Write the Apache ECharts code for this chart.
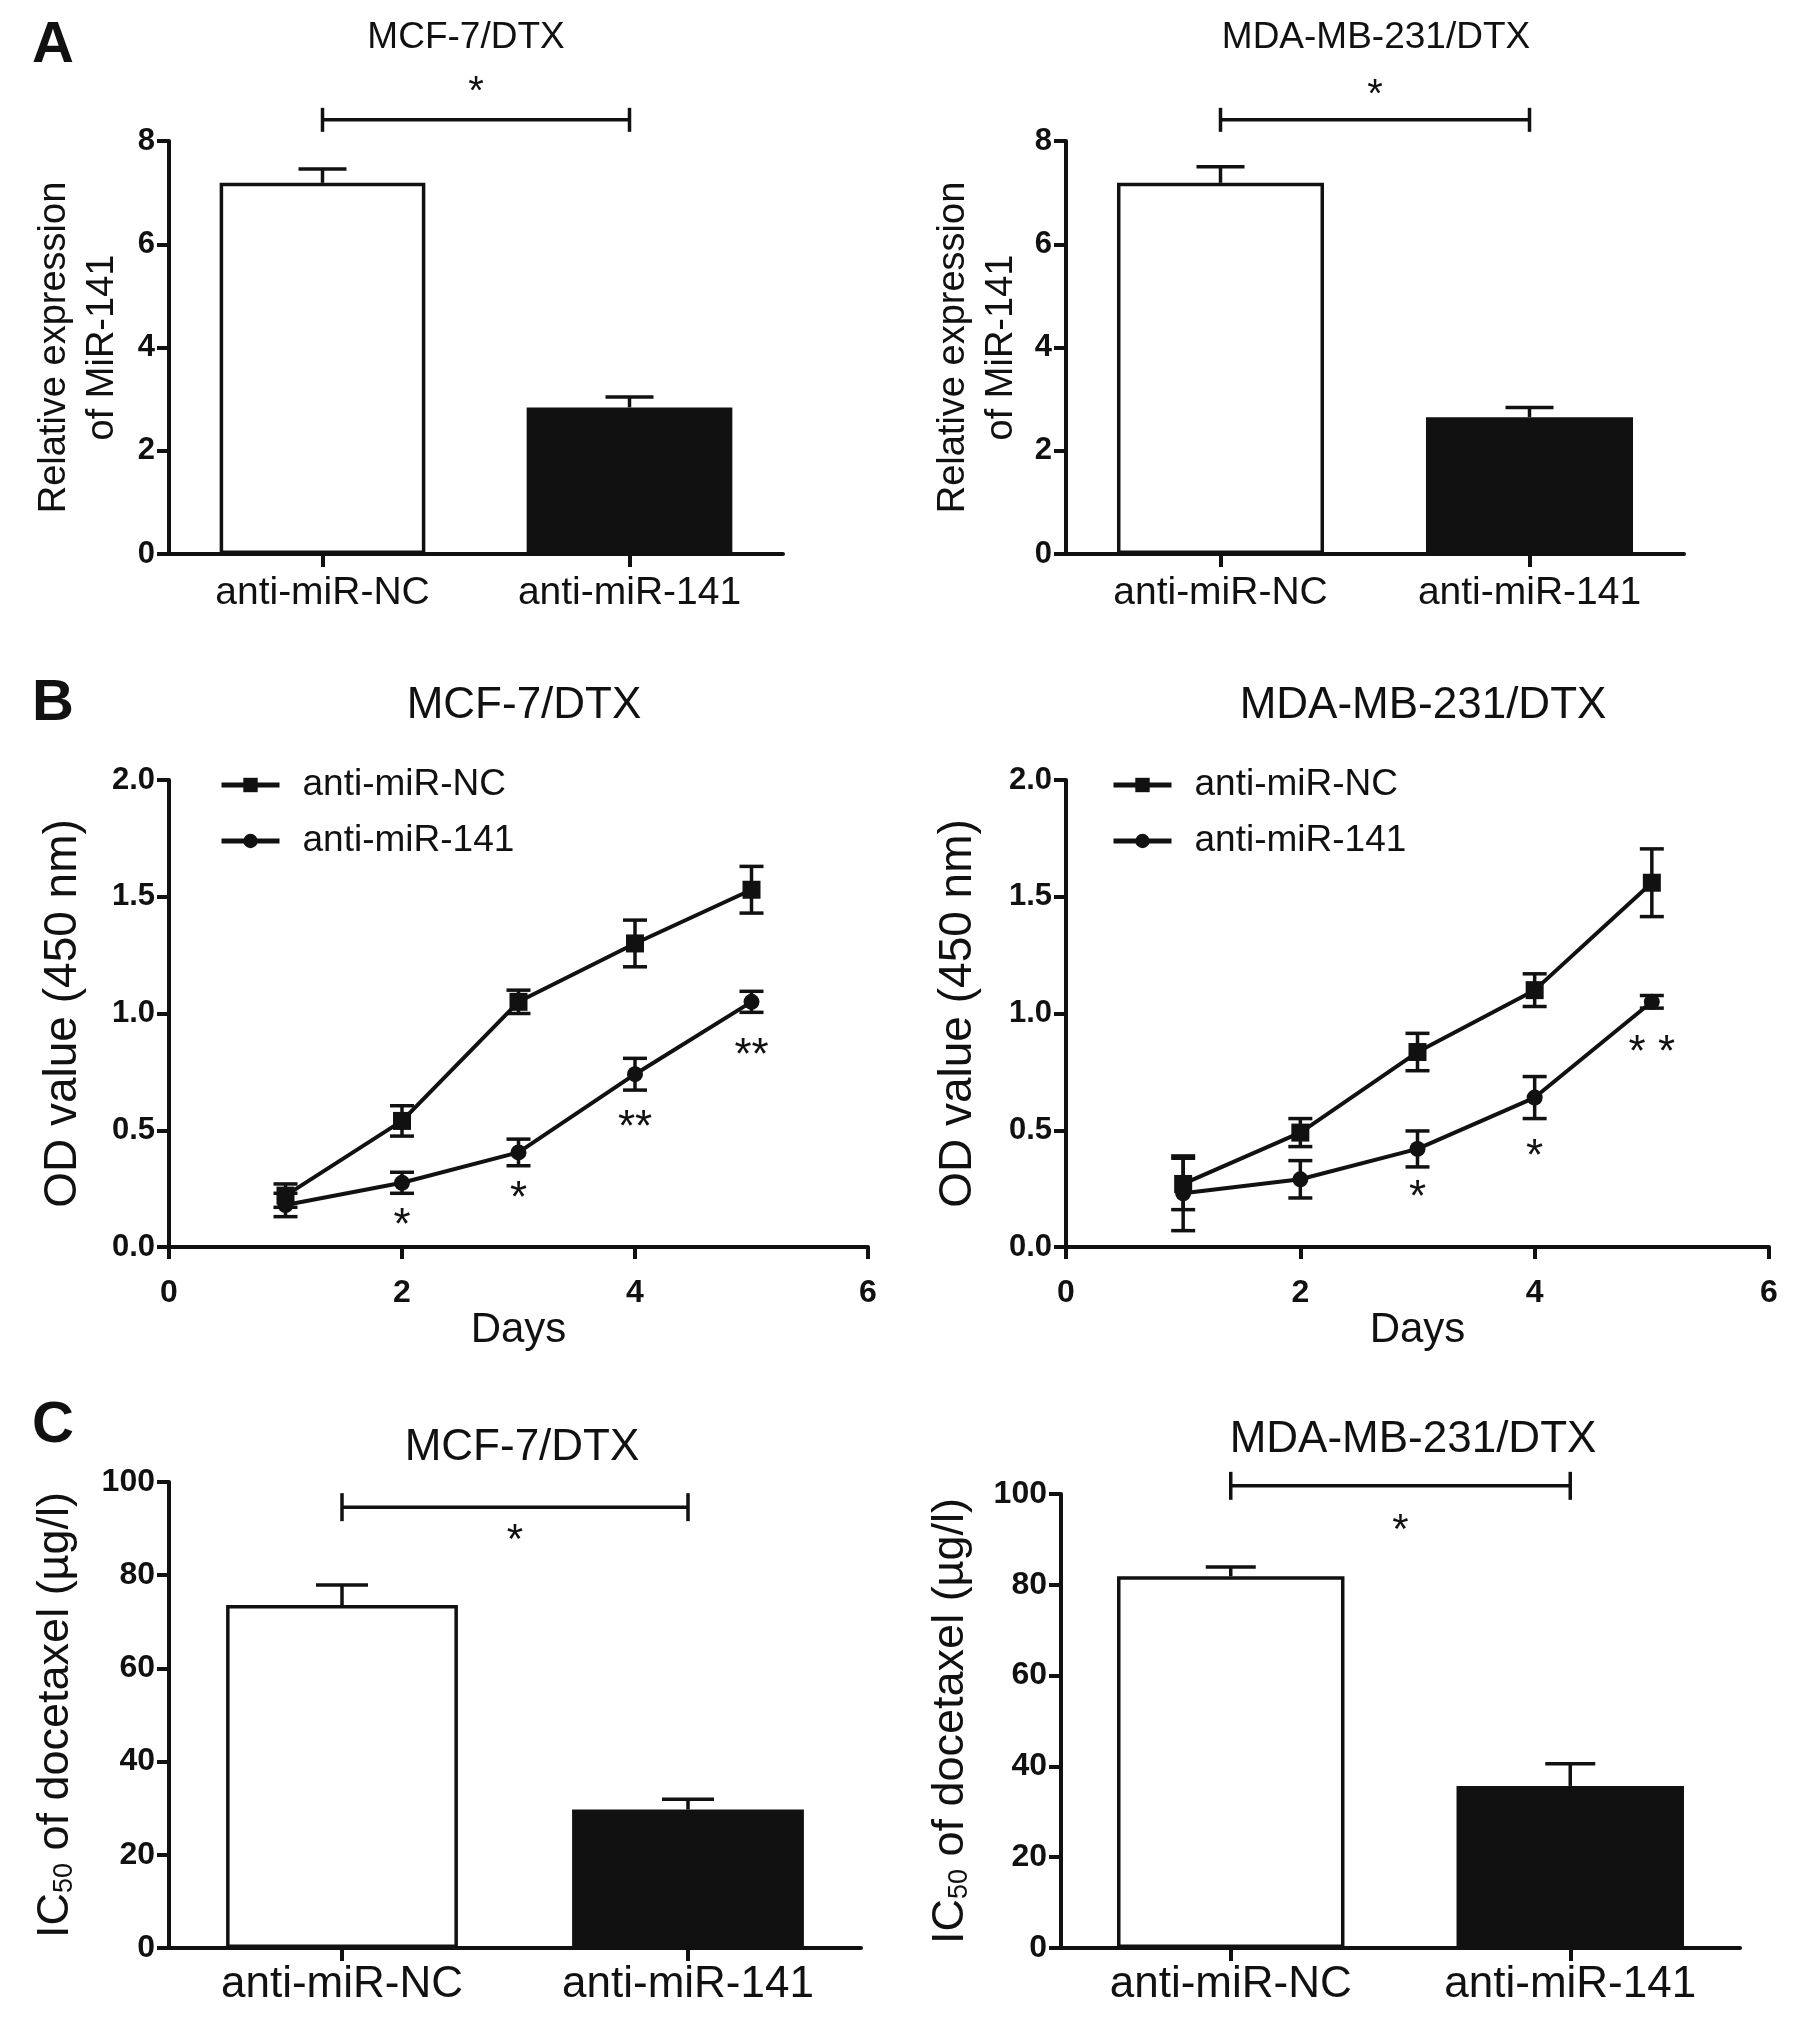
<!DOCTYPE html>
<html><head><meta charset="utf-8">
<script src="https://cdn.jsdelivr.net/npm/echarts@6/dist/echarts.min.js"></script>
<style>html,body{margin:0;padding:0;background:#fff}#c{width:1795px;height:2023px}</style>
</head><body><div id="c"></div>
<script>
// ---------- data ----------
const groups = ['anti-miR-NC', 'anti-miR-141'];
const panelATitles = ['MCF-7/DTX', 'MDA-MB-231/DTX'];
const aMcfMean = [7.19, 2.84];
const aMcfErr = [0.27, 0.20];
const aMdaMean = [7.19, 2.65];
const aMdaErr = [0.31, 0.19];

const days = [1, 2, 3, 4, 5];
const bMcfNC = [0.22, 0.54, 1.05, 1.30, 1.53];
const bMcfNCErr = [0.05, 0.065, 0.05, 0.10, 0.10];
const bMcf141 = [0.18, 0.275, 0.405, 0.74, 1.05];
const bMcf141Err = [0.05, 0.045, 0.057, 0.068, 0.045];
const bMdaNC = [0.27, 0.49, 0.835, 1.10, 1.56];
const bMdaNCErr = [0.11, 0.06, 0.08, 0.07, 0.145];
const bMda141 = [0.23, 0.29, 0.42, 0.64, 1.05];
const bMda141Err = [0.16, 0.08, 0.077, 0.09, 0.027];

const cMcfMean = [73.6, 29.7];
const cMcfErr = [4.3, 2.2];
const cMdaMean = [81.9, 35.7];
const cMdaErr = [2.0, 4.9];

// significance: [fromCat, toCat, bracketLevel, starLevel, text]
const aMcfSig = [0, 1, 8.41, 9.1, '*'];
const aMdaSig = [0, 1, 8.41, 9.05, '*'];
const cMcfSig = [0, 1, 94.6, 89.3, '*'];
const cMdaSig = [0, 1, 101.8, 93.8, '*'];
// star annotations on growth curves: [day, level, text]
const bMcfStars = [[2, 0.128, '*'], [3, 0.243, '*'], [4, 0.548, '**'], [5, 0.854, '**']];
const bMdaStars = [[3, 0.246, '*'], [4, 0.423, '*'], [5, 0.87, '* *']];

const yTicksA = [0, 2, 4, 6, 8];
const yTicksB = [0, 0.5, 1.0, 1.5, 2.0];
const yTicksC = [0, 20, 40, 60, 80, 100];
const xTicksB = [0, 2, 4, 6];

// ---------- styling ----------
const FF = '"Liberation Sans", Arial, Helvetica, sans-serif';
const INK = '#111';
const LW = 4;

function errUp(capW) {
  return function (params, api) {
    const x = api.value(0), v = api.value(1), e = api.value(2);
    const p0 = api.coord([x, v]), p1 = api.coord([x, v + e]);
    return { type: 'group', children: [
      { type: 'line', shape: { x1: p0[0], y1: p0[1], x2: p1[0], y2: p1[1] }, style: { stroke: INK, lineWidth: 3.5 } },
      { type: 'line', shape: { x1: p1[0] - capW / 2, y1: p1[1], x2: p1[0] + capW / 2, y2: p1[1] }, style: { stroke: INK, lineWidth: 3.5 } }
    ] };
  };
}
function errBoth(capW) {
  return function (params, api) {
    const x = api.value(0), v = api.value(1), e = api.value(2);
    const p0 = api.coord([x, v - e]), p1 = api.coord([x, v + e]);
    return { type: 'group', children: [
      { type: 'line', shape: { x1: p0[0], y1: p0[1], x2: p1[0], y2: p1[1] }, style: { stroke: INK, lineWidth: 3.5 } },
      { type: 'line', shape: { x1: p1[0] - capW / 2, y1: p1[1], x2: p1[0] + capW / 2, y2: p1[1] }, style: { stroke: INK, lineWidth: 3.5 } },
      { type: 'line', shape: { x1: p0[0] - capW / 2, y1: p0[1], x2: p0[0] + capW / 2, y2: p0[1] }, style: { stroke: INK, lineWidth: 3.5 } }
    ] };
  };
}
function bracket(sig, endH, fs) {
  return function (params, api) {
    const a = api.coord([sig[0], sig[2]]);
    const b = api.coord([sig[1], sig[2]]);
    const s = api.coord([sig[0], sig[3]]);
    const mx = (a[0] + b[0]) / 2;
    return { type: 'group', children: [
      { type: 'line', shape: { x1: a[0], y1: a[1], x2: b[0], y2: b[1] }, style: { stroke: INK, lineWidth: 3.5 } },
      { type: 'line', shape: { x1: a[0], y1: a[1] - endH, x2: a[0], y2: a[1] + endH }, style: { stroke: INK, lineWidth: 3.5 } },
      { type: 'line', shape: { x1: b[0], y1: b[1] - endH, x2: b[0], y2: b[1] + endH }, style: { stroke: INK, lineWidth: 3.5 } },
      { type: 'text', style: { text: sig[4], x: mx, y: s[1] + 0.22 * fs, fill: INK, font: fs + 'px ' + FF, align: 'center', verticalAlign: 'middle' } }
    ] };
  };
}
function starText(stars, fs) {
  return function (params, api) {
    const p = api.coord([api.value(0), api.value(1)]);
    return { type: 'text', style: { text: stars[params.dataIndex][2], x: p[0], y: p[1] + 0.22 * fs, fill: INK, font: fs + 'px ' + FF, align: 'center', verticalAlign: 'middle' } };
  };
}

const grids = [
  { left: 169, top: 141, width: 614, height: 413 },
  { left: 1066, top: 141, width: 618, height: 413 },
  { left: 169, top: 780, width: 699, height: 467 },
  { left: 1066, top: 780, width: 703, height: 467 },
  { left: 169, top: 1482, width: 692, height: 466 },
  { left: 1061, top: 1494, width: 679, height: 454 }
];

const axisLineS = { show: true, lineStyle: { color: INK, width: LW } };
const tickS = (len) => ({ show: true, length: len, lineStyle: { color: INK, width: LW } });

function catX(gi, fs, margin) {
  return { gridIndex: gi, type: 'category', data: groups, axisLine: axisLineS,
    axisTick: Object.assign(tickS(13), { alignWithLabel: true }),
    axisLabel: { color: INK, fontSize: fs, fontFamily: FF, margin: margin, interval: 0 },
    splitLine: { show: false } };
}
function valY(gi, ticks, fs, name, nameGap, nameStyle, fmt) {
  return { gridIndex: gi, type: 'value', min: ticks[0], max: ticks[ticks.length - 1], interval: ticks[1] - ticks[0],
    axisLine: axisLineS, axisTick: tickS(12), splitLine: { show: false },
    axisLabel: { color: INK, fontSize: fs, fontWeight: 'bold', fontFamily: FF, margin: 14, formatter: fmt },
    name: name, nameLocation: 'middle', nameGap: nameGap, nameRotate: 90,
    nameTextStyle: Object.assign({ color: INK, fontFamily: FF }, nameStyle) };
}
function dayX(gi) {
  return { gridIndex: gi, type: 'value', min: xTicksB[0], max: xTicksB[xTicksB.length - 1], interval: xTicksB[1] - xTicksB[0],
    axisLine: axisLineS, axisTick: tickS(12), splitLine: { show: false },
    axisLabel: { color: INK, fontSize: 32, fontWeight: 'bold', fontFamily: FF, margin: 30 },
    name: 'Days', nameLocation: 'middle', nameGap: 56,
    nameTextStyle: { color: INK, fontSize: 42, fontFamily: FF } };
}

const fmt1 = v => v.toFixed(1);
const icName = '{a|IC}{s|50}{a| of docetaxel (µg/l)}';
const icStyle = { rich: { a: { fontSize: 45, fontFamily: FF, color: INK }, s: { fontSize: 27, fontFamily: FF, color: INK, verticalAlign: 'bottom' } } };

const xAxis = [catX(0, 39, 20), catX(1, 39, 20), dayX(2), dayX(3), catX(4, 44, 15), catX(5, 44, 15)];
const yAxis = [
  valY(0, yTicksA, 31, 'Relative expression\nof MiR-141', 42, { fontSize: 38, lineHeight: 48 }),
  valY(1, yTicksA, 31, 'Relative expression\nof MiR-141', 40, { fontSize: 38, lineHeight: 48 }),
  valY(2, yTicksB, 31, 'OD value (450 nm)', 83, { fontSize: 46 }, fmt1),
  valY(3, yTicksB, 31, 'OD value (450 nm)', 85, { fontSize: 46 }, fmt1),
  valY(4, yTicksC, 32, icName, 91, icStyle),
  valY(5, yTicksC, 32, icName, 88, icStyle)
];

function barSeries(gi, means) {
  return { type: 'bar', xAxisIndex: gi, yAxisIndex: gi, barWidth: '67%', silent: true,
    data: means.map((v, i) => ({ value: v, itemStyle: i === 0
      ? { color: '#fff', borderColor: INK, borderWidth: 3.5 }
      : { color: INK, borderColor: INK, borderWidth: 3.5 } })) };
}
function errSeries(gi, means, errs, capW) {
  return { type: 'custom', xAxisIndex: gi, yAxisIndex: gi, silent: true, z: 5,
    renderItem: errUp(capW),
    data: means.map((v, i) => [i, v, errs[i]]) };
}
function errSeriesXY(gi, xs, means, errs, capW) {
  return { type: 'custom', xAxisIndex: gi, yAxisIndex: gi, silent: true, z: 3,
    renderItem: errBoth(capW),
    data: means.map((v, i) => [xs[i], v, errs[i]]) };
}
function sigSeries(gi, sig, endH, fs) {
  return { type: 'custom', xAxisIndex: gi, yAxisIndex: gi, silent: true, clip: false,
    renderItem: bracket(sig, endH, fs), data: [[sig[0], sig[2]]] };
}
function lineSeries(gi, name, xs, ys, sym, size) {
  return { type: 'line', name: name, xAxisIndex: gi, yAxisIndex: gi, silent: true,
    symbol: sym, symbolSize: size, showSymbol: true,
    lineStyle: { color: INK, width: 4 }, itemStyle: { color: INK },
    data: xs.map((x, i) => [x, ys[i]]), z: 4 };
}
function starSeries(gi, stars, fs) {
  return { type: 'custom', xAxisIndex: gi, yAxisIndex: gi, silent: true, clip: false,
    renderItem: starText(stars, fs), data: stars.map(s => [s[0], s[1]]) };
}

const series = [
  barSeries(0, aMcfMean), errSeries(0, aMcfMean, aMcfErr, 48), sigSeries(0, aMcfSig, 12, 40),
  barSeries(1, aMdaMean), errSeries(1, aMdaMean, aMdaErr, 48), sigSeries(1, aMdaSig, 12, 40),
  errSeriesXY(2, days, bMcfNC, bMcfNCErr, 24), errSeriesXY(2, days, bMcf141, bMcf141Err, 24),
  lineSeries(2, groups[0], days, bMcfNC, 'rect', 18), lineSeries(2, groups[1], days, bMcf141, 'circle', 16),
  starSeries(2, bMcfStars, 44),
  errSeriesXY(3, days, bMdaNC, bMdaNCErr, 24), errSeriesXY(3, days, bMda141, bMda141Err, 24),
  lineSeries(3, groups[0], days, bMdaNC, 'rect', 18), lineSeries(3, groups[1], days, bMda141, 'circle', 16),
  starSeries(3, bMdaStars, 44),
  barSeries(4, cMcfMean), errSeries(4, cMcfMean, cMcfErr, 52), sigSeries(4, cMcfSig, 14, 42),
  barSeries(5, cMdaMean), errSeries(5, cMdaMean, cMdaErr, 50), sigSeries(5, cMdaSig, 14, 42)
];

function ttl(text, cx, top, fs, bold) {
  return { text: text, left: cx, top: top, textAlign: 'center',
    textStyle: { fontSize: fs, fontWeight: bold ? 'bold' : 'normal', color: INK, fontFamily: FF } };
}
const title = [
  ttl('A', 48, 12, 58, true), ttl('B', 48, 670, 58, true), ttl('C', 48, 1392, 58, true),
  ttl(panelATitles[0], 461, 14, 37), ttl(panelATitles[1], 1371, 14, 37),
  ttl(panelATitles[0], 519, 679, 44), ttl(panelATitles[1], 1418, 679, 44),
  ttl(panelATitles[0], 517, 1421, 44), ttl(panelATitles[1], 1408, 1413, 44)
];

function lg(left) {
  return { left: left, top: 758, orient: 'vertical', itemWidth: 58, itemHeight: 18, itemGap: 12,
    data: groups, selectedMode: false,
    lineStyle: { width: 5, color: INK },
    textStyle: { fontSize: 37, color: INK, fontFamily: FF, lineHeight: 44, padding: [0, 0, 0, 18] } };
}

const chart = echarts.init(document.getElementById('c'), null, { renderer: 'canvas' });
chart.setOption({
  animation: false,
  backgroundColor: '#fff',
  title: title,
  legend: [lg(214), lg(1106)],
  grid: grids,
  xAxis: xAxis,
  yAxis: yAxis,
  series: series
});
</script>
</body></html>
